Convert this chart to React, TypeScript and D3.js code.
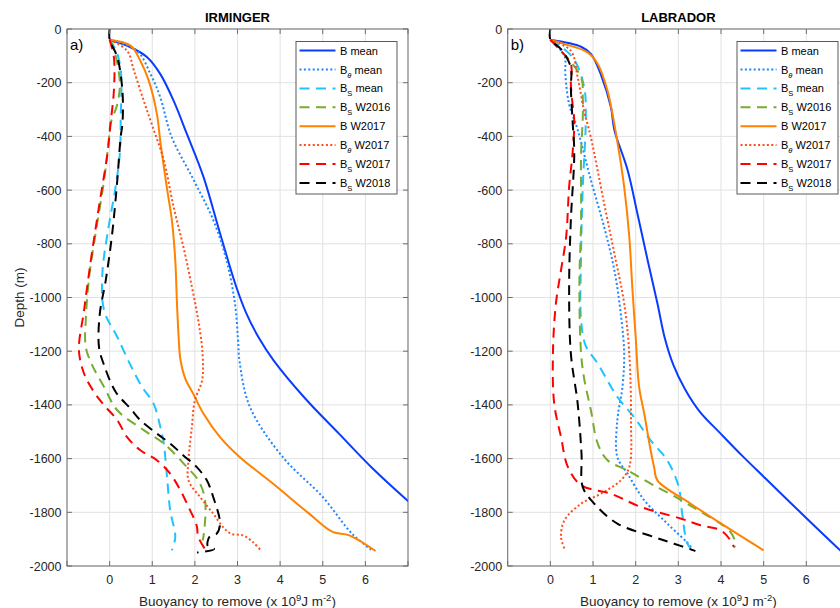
import React from 'react'
import * as d3 from 'd3'

// [buoyancy (x 1e9 J m^-2), depth (m)]
const irmBMean = [[0,-40],[0.49,-68],[0.88,-105],[1.19,-168],[1.5,-267],[1.81,-390],[2.2,-550],[2.59,-761],[2.97,-960],[3.21,-1060],[3.5,-1150],[3.85,-1235],[4.61,-1380],[5.38,-1507],[6.16,-1635],[6.98,-1755],[7.9,-1880]]
const irmBthMean = [[0,-40],[0.64,-81],[0.96,-168],[1.19,-255],[1.45,-400],[1.97,-562],[2.43,-711],[2.74,-860],[2.94,-1022],[3.01,-1150],[3.05,-1240],[3.29,-1407],[4.06,-1594],[5.0,-1743],[5.69,-1880],[6.16,-1942]]
const irmBsMean = [[0,-40],[0.15,-80],[0.26,-150],[0.26,-340],[0.24,-463],[0.14,-588],[-0.05,-762],[-0.17,-911],[-0.13,-1048],[0.18,-1147],[0.49,-1252],[0.76,-1333],[1.03,-1395],[1.19,-1482],[1.27,-1544],[1.34,-1656],[1.42,-1792],[1.54,-1892],[1.46,-1942]]
const irmBsW2016 = [[0,-40],[0.1,-75],[0.24,-200],[0.18,-280],[0.02,-354],[-0.02,-414],[-0.13,-563],[-0.33,-762],[-0.48,-923],[-0.56,-1085],[-0.56,-1184],[-0.41,-1252],[-0.13,-1333],[0.18,-1420],[0.8,-1494],[1.27,-1544],[1.81,-1631],[2.08,-1681],[2.24,-1755],[2.2,-1892],[2.18,-1905]]
const irmBW2017 = [[0,-40],[0.49,-62],[0.72,-118],[0.92,-193],[1.11,-317],[1.19,-420],[1.34,-588],[1.46,-712],[1.54,-861],[1.58,-1022],[1.62,-1150],[1.66,-1230],[1.77,-1300],[1.96,-1358],[2.2,-1432],[2.59,-1520],[3.05,-1594],[3.83,-1693],[4.68,-1805],[5.23,-1873],[5.62,-1886],[6.24,-1944]]
const irmBthW2017 = [[0,-40],[0.41,-81],[0.57,-155],[0.8,-267],[1.0,-360],[1.27,-488],[1.5,-662],[1.73,-811],[1.93,-960],[2.08,-1085],[2.18,-1208],[2.17,-1308],[2.0,-1383],[1.93,-1482],[1.85,-1606],[1.85,-1681],[2.12,-1743],[2.43,-1805],[2.66,-1855],[2.85,-1880],[3.13,-1886],[3.36,-1911],[3.56,-1944]]
const irmBsW2017 = [[0,-40],[0.1,-105],[0.1,-230],[0.02,-354],[-0.05,-463],[-0.25,-662],[-0.44,-861],[-0.6,-1048],[-0.72,-1196],[-0.6,-1283],[-0.37,-1351],[-0.13,-1401],[0.18,-1457],[0.41,-1520],[0.72,-1569],[1.11,-1606],[1.42,-1656],[1.66,-1718],[1.85,-1780],[2.04,-1848],[2.08,-1892],[2.25,-1940]]
const irmBsW2018 = [[0,0],[0,-40],[0.18,-105],[0.3,-230],[0.3,-354],[0.26,-400],[0.18,-563],[0.06,-762],[-0.09,-935],[-0.23,-1060],[-0.25,-1184],[-0.13,-1252],[0.14,-1351],[0.49,-1414],[0.72,-1457],[1.11,-1507],[1.42,-1544],[1.73,-1588],[2.04,-1631],[2.28,-1681],[2.43,-1743],[2.59,-1842],[2.51,-1880],[2.35,-1890],[2.3,-1925],[2.45,-1937],[2.05,-1950]]

const labBMean = [[0,-40],[0.72,-66],[0.95,-93],[1.18,-168],[1.42,-292],[1.5,-376],[1.81,-525],[2.04,-687],[2.28,-861],[2.51,-1022],[2.68,-1150],[2.88,-1250],[3.15,-1340],[3.5,-1425],[3.98,-1505],[4.5,-1590],[5.05,-1675],[5.86,-1800],[6.71,-1929],[7.3,-2015]]
const labBthMean = [[0,-40],[0.33,-100],[0.35,-168],[0.44,-280],[0.64,-376],[0.95,-563],[1.26,-737],[1.5,-898],[1.65,-1060],[1.73,-1208],[1.69,-1333],[1.57,-1457],[1.57,-1594],[1.81,-1656],[2.2,-1755],[2.74,-1842],[3.29,-1929],[3.3,-1940]]
const labBsMean = [[0,-40],[0.52,-105],[0.79,-215],[0.83,-330],[0.76,-588],[0.72,-836],[0.72,-1085],[0.83,-1180],[1.11,-1246],[1.57,-1370],[1.96,-1445],[2.35,-1532],[2.74,-1606],[3.01,-1706],[3.09,-1805],[3.21,-1917],[3.3,-1935]]
const labBsW2016 = [[0,-40],[0.21,-75],[0.72,-180],[0.76,-255],[0.76,-329],[0.72,-463],[0.72,-712],[0.68,-960],[0.72,-1208],[0.79,-1300],[0.95,-1420],[1.11,-1544],[1.34,-1606],[1.81,-1644],[2.35,-1693],[2.9,-1740],[3.6,-1805],[3.99,-1842],[4.22,-1873],[4.34,-1917],[4.3,-1932]]
const labBW2017 = [[0,-40],[0.33,-56],[0.87,-87],[1.11,-130],[1.34,-230],[1.57,-420],[1.73,-588],[1.85,-774],[1.92,-960],[2.0,-1147],[2.08,-1333],[2.2,-1432],[2.35,-1569],[2.43,-1630],[2.51,-1681],[3.29,-1768],[4.07,-1849],[5.0,-1942]]
const labBthW2017 = [[0,-40],[0.48,-81],[0.64,-180],[0.79,-304],[0.95,-404],[1.26,-650],[1.5,-836],[1.73,-1022],[1.85,-1208],[1.89,-1457],[1.85,-1631],[1.65,-1681],[1.18,-1731],[0.72,-1768],[0.33,-1830],[0.25,-1892],[0.33,-1935]]
const labBsW2017 = [[0,-40],[0.21,-75],[0.48,-130],[0.48,-205],[0.52,-280],[0.56,-342],[0.52,-463],[0.44,-588],[0.37,-774],[0.25,-898],[0.13,-1022],[0.06,-1208],[0.09,-1395],[0.25,-1520],[0.41,-1631],[0.72,-1699],[1.42,-1731],[2.12,-1780],[3.05,-1823],[3.52,-1848],[3.99,-1867],[4.22,-1904],[4.3,-1929]]
const labBsW2018 = [[0,0],[0,-40],[0.25,-75],[0.48,-143],[0.48,-217],[0.52,-342],[0.56,-463],[0.48,-712],[0.44,-960],[0.48,-1208],[0.64,-1395],[0.73,-1582],[0.76,-1706],[1.03,-1768],[1.57,-1842],[2.43,-1892],[2.9,-1917],[3.36,-1942],[3.4,-1945]]

const seriesMain = ['B', 'B', 'B', 'B', 'B', 'B', 'B', 'B']
const seriesSub = ['', 'θ', 'S', 'S', '', 'θ', 'S', 'S']
const seriesRest = [' mean', ' mean', ' mean', ' W2016', ' W2017', ' W2017', ' W2017', ' W2018']
const seriesColors = ['#0a3cff', '#1f86ff', '#1ec3ff', '#77ac30', '#ff8200', '#ff4d1a', '#ff0000', '#000000']
const seriesDash = ['none', '2 2.4', '10 6.5', '10 6.5', 'none', '2 2.4', '10 6.5', '10 6.5']

const irmingerData = [irmBMean, irmBthMean, irmBsMean, irmBsW2016, irmBW2017, irmBthW2017, irmBsW2017, irmBsW2018]
const labradorData = [labBMean, labBthMean, labBsMean, labBsW2016, labBW2017, labBthW2017, labBsW2017, labBsW2018]

const xTicks = [-1, 0, 1, 2, 3, 4, 5, 6, 7]
const xTickLabels = ['', '0', '1', '2', '3', '4', '5', '6', '']
const yTicks = d3.range(-2000, 1, 200)

const FONT = '"Liberation Sans", Arial, sans-serif'
const TOP = 29
const BOTTOM = 566

function Panel({ left, right, title, tag, data, id, showYLabel }) {
  const x = d3.scaleLinear().domain([-1, 7]).range([left, right])
  const y = d3.scaleLinear().domain([-2000, 0]).range([BOTTOM, TOP])
  const line = d3.line().x(d => x(d[0])).y(d => y(d[1])).curve(d3.curveCatmullRom.alpha(0.5))
  const cx = (left + right) / 2
  const legW = 101
  const legX = right - 11 - legW
  const legY = 41.5

  return (
    <g>
      <defs>
        <clipPath id={id}>
          <rect x={left} y={TOP} width={right - left} height={BOTTOM - TOP} />
        </clipPath>
      </defs>
      <rect x={left} y={TOP} width={right - left} height={BOTTOM - TOP} fill="#fff" />
      {xTicks.map(t => (
        <line key={'gx' + t} x1={x(t)} x2={x(t)} y1={TOP} y2={BOTTOM} stroke="#e2e2e2" />
      ))}
      {yTicks.map(t => (
        <line key={'gy' + t} x1={left} x2={right} y1={y(t)} y2={y(t)} stroke="#e2e2e2" />
      ))}
      <g clipPath={`url(#${id})`}>
        {data.map((d, i) => (
          <path key={i} d={line(d)} fill="none" stroke={seriesColors[i]} strokeWidth={2}
            strokeDasharray={seriesDash[i]} />
        ))}
      </g>
      <rect x={left} y={TOP} width={right - left} height={BOTTOM - TOP} fill="none" stroke="#6e6e6e" />
      {xTicks.map((t, i) => (
        <g key={'tx' + t}>
          <line x1={x(t)} x2={x(t)} y1={BOTTOM} y2={BOTTOM - 5} stroke="#6e6e6e" />
          <line x1={x(t)} x2={x(t)} y1={TOP} y2={TOP + 5} stroke="#6e6e6e" />
          <text x={x(t)} y={583.5} textAnchor="middle" fontSize={12.5} fill="#262626" fontFamily={FONT}>
            {xTickLabels[i]}
          </text>
        </g>
      ))}
      {yTicks.map(t => (
        <g key={'ty' + t}>
          <line x1={left} x2={left + 5} y1={y(t)} y2={y(t)} stroke="#6e6e6e" />
          <line x1={right} x2={right - 5} y1={y(t)} y2={y(t)} stroke="#6e6e6e" />
          <text x={left - 5.5} y={y(t) + 4.5} textAnchor="end" fontSize={12.5} fill="#262626" fontFamily={FONT}>
            {t}
          </text>
        </g>
      ))}
      <text x={left + 3} y={50} fontSize={15} fill="#000" fontFamily={FONT}>{tag}</text>
      <text x={cx} y={22} textAnchor="middle" fontSize={13} fontWeight="bold" fill="#000" fontFamily={FONT}>{title}</text>
      <text x={cx} y={606} textAnchor="middle" fontSize={13.5} fill="#262626" fontFamily={FONT}>
        Buoyancy to remove (x 10<tspan dy={-5} fontSize={9.5}>9</tspan><tspan dy={5}>J m</tspan>
        <tspan dy={-5} fontSize={9.5}>-2</tspan><tspan dy={5}>)</tspan>
      </text>
      {showYLabel && (
        <text transform={`translate(24,${(TOP + BOTTOM) / 2}) rotate(-90)`} textAnchor="middle" fontSize={13.5}
          fill="#262626" fontFamily={FONT}>Depth (m)</text>
      )}
      <rect x={legX} y={legY} width={legW} height={152.5} fill="#fff" stroke="#5a5a5a" />
      {seriesColors.map((c, i) => {
        const ry = 50.6 + i * 18.9
        return (
          <g key={'lg' + i}>
            <line x1={legX + 3.5} x2={legX + 39.5} y1={ry} y2={ry} stroke={c} strokeWidth={2}
              strokeDasharray={seriesDash[i]} />
            <text x={legX + 44} y={ry + 4} fontSize={11} fill="#000" fontFamily={FONT}>
              {seriesMain[i]}
              {seriesSub[i] && (
                <tspan dy={4} fontSize={7.5} fontStyle={seriesSub[i] === 'θ' ? 'italic' : 'normal'}>{seriesSub[i]}</tspan>
              )}
              <tspan dy={seriesSub[i] ? -4 : 0}>{seriesRest[i]}</tspan>
            </text>
          </g>
        )
      })}
    </g>
  )
}

export default function App() {
  return (
    <svg width={840} height={608} style={{ position: 'absolute', left: 0, top: 0, background: '#fff' }}>
      <rect x={0} y={0} width={840} height={608} fill="#fff" />
      <Panel left={67} right={408} title="IRMINGER" tag="a)" data={irmingerData} id="clipA" showYLabel />
      <Panel left={507.7} right={849} title="LABRADOR" tag="b)" data={labradorData} id="clipB" showYLabel={false} />
    </svg>
  )
}
